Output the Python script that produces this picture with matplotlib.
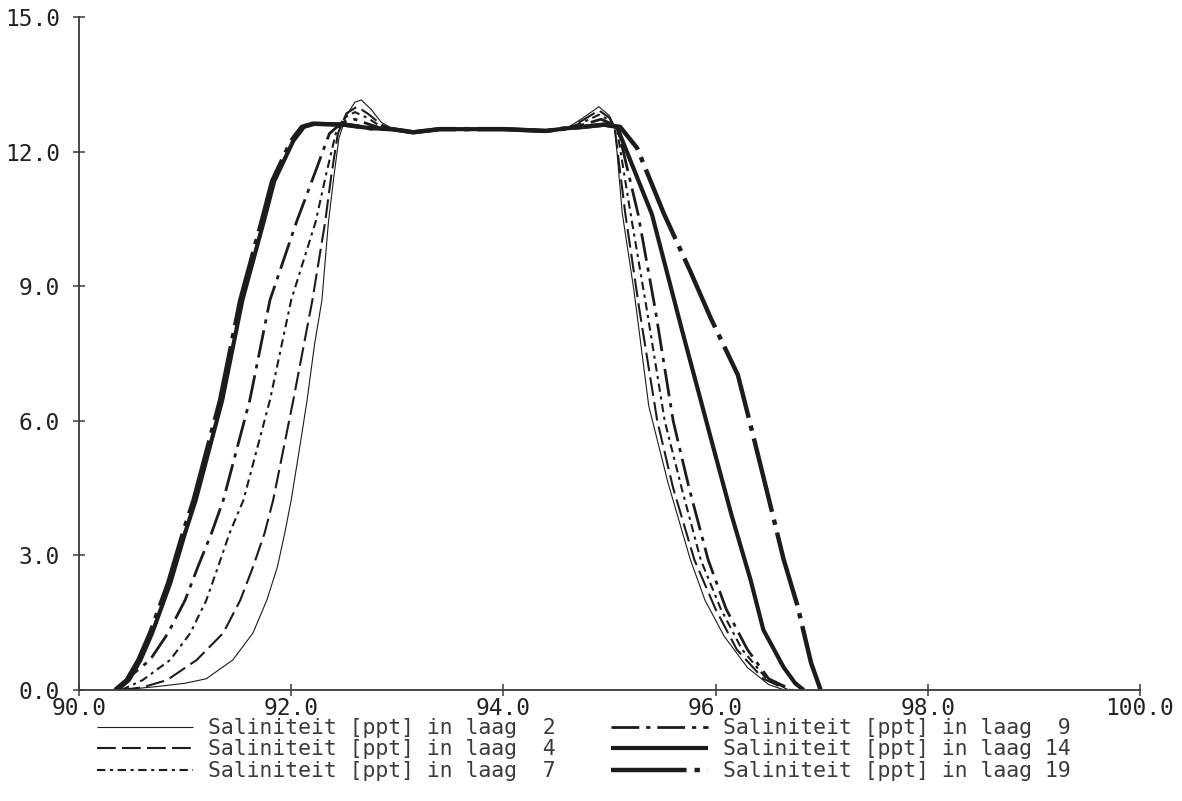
import numpy as np
import matplotlib
matplotlib.use("Agg")
import matplotlib.pyplot as plt

# ── Saliniteit per laag langs de raai ────────────────────────────────────────
# gemeenschappelijk plateau tussen de twee fronten
PLATEAU_X = [93.15, 93.40, 94.00, 94.40, 94.60]
PLATEAU_Y = [12.43, 12.50, 12.50, 12.46, 12.52]

# laag 2
RISE_X_2 = [90.40, 90.75, 91.00, 91.20, 91.45, 91.64, 91.77, 91.87, 91.94, 92.00,
            92.08, 92.15, 92.22, 92.29, 92.35, 92.40, 92.45, 92.52, 92.60, 92.66,
            92.75, 92.85, 92.95]
RISE_Y_2 = [0.00, 0.08, 0.15, 0.25, 0.67, 1.27, 2.00, 2.74, 3.50, 4.23,
            5.40, 6.46, 7.70, 8.69, 10.40, 11.40, 12.30, 12.80, 13.10, 13.15,
            12.95, 12.65, 12.52]
FALL_X_2 = [94.75, 94.90, 95.00, 95.05, 95.12, 95.23, 95.37, 95.55, 95.76, 95.90,
            96.08, 96.30, 96.50, 96.65]
FALL_Y_2 = [12.75, 13.00, 12.80, 12.55, 10.63, 8.91, 6.33, 4.63, 2.92, 2.00,
            1.20, 0.50, 0.12, 0.00]

# laag 4
RISE_X_4 = [90.40, 90.60, 90.83, 91.11, 91.36, 91.52, 91.64, 91.75, 91.83, 92.02,
            92.20, 92.32, 92.38, 92.44, 92.52, 92.62, 92.72, 92.85, 92.95]
RISE_Y_4 = [0.00, 0.06, 0.22, 0.67, 1.27, 2.00, 2.74, 3.50, 4.23, 6.46,
            8.69, 10.43, 11.50, 12.40, 12.85, 13.00, 12.85, 12.60, 12.50]
FALL_X_4 = [94.75, 94.90, 95.00, 95.05, 95.15, 95.28, 95.45, 95.60, 95.80, 96.00,
            96.20, 96.45, 96.68]
FALL_Y_4 = [12.70, 12.92, 12.75, 12.50, 10.60, 8.50, 6.00, 4.50, 2.90, 1.80,
            0.90, 0.25, 0.00]

# laag 7
RISE_X_7 = [90.40, 90.60, 90.86, 91.05, 91.20, 91.31, 91.42, 91.55, 91.80, 92.00,
            92.23, 92.33, 92.42, 92.50, 92.60, 92.72, 92.85, 92.95]
RISE_Y_7 = [0.00, 0.22, 0.67, 1.27, 2.00, 2.74, 3.50, 4.23, 6.46, 8.69,
            10.43, 11.50, 12.40, 12.75, 12.88, 12.75, 12.55, 12.50]
FALL_X_7 = [94.75, 94.90, 95.00, 95.07, 95.20, 95.35, 95.52, 95.68, 95.86, 96.05,
            96.25, 96.48, 96.70]
FALL_Y_7 = [12.65, 12.82, 12.70, 12.50, 10.60, 8.50, 6.00, 4.50, 2.90, 1.80,
            0.90, 0.25, 0.00]

# laag 9
RISE_X_9 = [90.38, 90.48, 90.67, 90.84, 91.00, 91.12, 91.25, 91.36, 91.61, 91.80,
            92.05, 92.22, 92.36, 92.48, 92.60, 92.72, 92.85, 92.95]
RISE_Y_9 = [0.00, 0.30, 0.67, 1.27, 2.00, 2.74, 3.50, 4.23, 6.46, 8.69,
            10.43, 11.50, 12.40, 12.65, 12.72, 12.62, 12.52, 12.50]
FALL_X_9 = [94.75, 94.92, 95.02, 95.08, 95.27, 95.43, 95.60, 95.75, 95.93, 96.10,
            96.30, 96.50, 96.72]
FALL_Y_9 = [12.60, 12.72, 12.62, 12.50, 10.60, 8.50, 6.00, 4.50, 2.90, 1.80,
            0.90, 0.25, 0.00]

# laag 14
RISE_X_14 = [90.36, 90.47, 90.58, 90.69, 90.86, 91.00, 91.10, 91.35, 91.54, 91.74,
             91.84, 92.02, 92.12, 92.22, 92.50, 92.75, 92.95]
RISE_Y_14 = [0.00, 0.22, 0.67, 1.27, 2.38, 3.50, 4.23, 6.46, 8.69, 10.43,
             11.34, 12.24, 12.55, 12.62, 12.60, 12.52, 12.50]
FALL_X_14 = [94.75, 94.95, 95.07, 95.40, 95.68, 95.97, 96.15, 96.33, 96.45, 96.64,
             96.75, 96.83]
FALL_Y_14 = [12.55, 12.60, 12.55, 10.60, 8.05, 5.48, 3.90, 2.45, 1.34, 0.51,
             0.15, 0.00]

# laag 19
RISE_X_19 = [90.34, 90.45, 90.56, 90.67, 90.84, 90.98, 91.08, 91.33, 91.52, 91.72,
             91.82, 92.00, 92.10, 92.20, 92.50, 92.75, 92.95]
RISE_Y_19 = [0.00, 0.22, 0.67, 1.27, 2.38, 3.50, 4.23, 6.46, 8.69, 10.43,
             11.34, 12.24, 12.55, 12.62, 12.60, 12.52, 12.50]
FALL_X_19 = [94.75, 94.95, 95.10, 95.26, 95.51, 95.76, 95.95, 96.21, 96.33, 96.49,
             96.64, 96.77, 96.90, 96.99]
FALL_Y_19 = [12.55, 12.60, 12.55, 12.08, 10.63, 9.34, 8.31, 7.02, 5.90, 4.37,
             2.92, 1.89, 0.60, 0.00]

LAGEN = [2, 4, 7, 9, 14, 19]
X_TICKS = [90.0, 92.0, 94.0, 96.0, 98.0, 100.0]
Y_TICKS = [0.0, 3.0, 6.0, 9.0, 12.0, 15.0]

# lijnstijl per laag: (dikte, dash-patroon of None voor doorgetrokken)
STIJL = {
    2:  (0.8, None),
    4:  (1.5, (9, 3)),
    7:  (1.5, (4, 2.2, 1.5, 2.2)),
    9:  (2.0, (10, 2.5, 1.5, 2.5)),
    14: (3.0, None),
    19: (3.2, (17, 1.8, 1.2, 1.8)),
}

DATA = {
    2:  (RISE_X_2, RISE_Y_2, FALL_X_2, FALL_Y_2),
    4:  (RISE_X_4, RISE_Y_4, FALL_X_4, FALL_Y_4),
    7:  (RISE_X_7, RISE_Y_7, FALL_X_7, FALL_Y_7),
    9:  (RISE_X_9, RISE_Y_9, FALL_X_9, FALL_Y_9),
    14: (RISE_X_14, RISE_Y_14, FALL_X_14, FALL_Y_14),
    19: (RISE_X_19, RISE_Y_19, FALL_X_19, FALL_Y_19),
}

INK = "#1c1c1c"
AXCOL = "#3a3a3a"
MONO = "DejaVu Sans Mono"

fig = plt.figure(figsize=(11.82, 8.01), dpi=100)
ax = fig.add_axes([0.0668, 0.1386, 0.8977, 0.8402])

for laag in LAGEN:
    rx, ry, fx, fy = DATA[laag]
    x = np.concatenate([rx, PLATEAU_X, fx])
    y = np.concatenate([ry, PLATEAU_Y, fy])
    lw, dashes = STIJL[laag]
    label = f"Saliniteit [ppt] in laag {laag:2d}"
    line, = ax.plot(x, y, color=INK, linewidth=lw, label=label,
                    solid_capstyle="butt", dash_capstyle="butt")
    if dashes is not None:
        line.set_dashes(dashes)

ax.set_xlim(90.0, 100.0)
ax.set_ylim(0.0, 15.0)
ax.set_xticks(X_TICKS)
ax.set_yticks(Y_TICKS)
ax.set_xticklabels([f"{v:.1f}" for v in X_TICKS])
ax.set_yticklabels([f"{v:.1f}" for v in Y_TICKS])

for side in ("top", "right"):
    ax.spines[side].set_visible(False)
for side in ("left", "bottom"):
    ax.spines[side].set_color(AXCOL)
    ax.spines[side].set_linewidth(1.3)

ax.tick_params(axis="both", direction="inout", length=9, width=1.1,
               color=AXCOL, labelcolor="#222222", labelsize=16.5)
ax.tick_params(axis="y", pad=9)
ax.tick_params(axis="x", pad=0.5)
for lbl in ax.get_xticklabels() + ax.get_yticklabels():
    lbl.set_family(MONO)

# legenda onder de grafiek, twee kolommen
leg = fig.legend(loc="upper left", bbox_to_anchor=(97 / 1182, 1 - 718 / 801),
                 ncol=2, frameon=False, handlelength=4.5, handletextpad=0.7,
                 columnspacing=2.6, labelspacing=0.07, borderpad=0.0,
                 borderaxespad=0.0, prop={"family": MONO, "size": 15.4})
for t in leg.get_texts():
    t.set_color("#3a3a3a")

fig.savefig("out.png", dpi=100, facecolor="white")
